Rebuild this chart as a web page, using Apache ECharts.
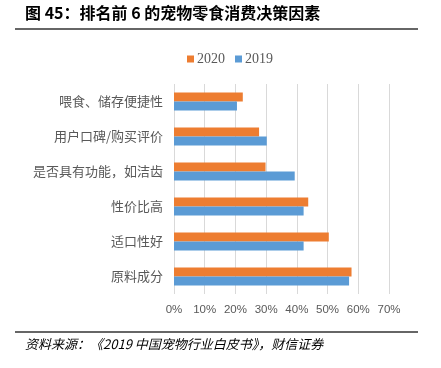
<!DOCTYPE html>
<html>
<head>
<meta charset="utf-8">
<script src="https://cdn.jsdelivr.net/npm/echarts@6/dist/echarts.min.js"></script>
<style>
  html, body { margin: 0; padding: 0; background: #fff; }
  #main { width: 441px; height: 368px; }
</style>
</head>
<body>
<div id="main"></div>
<script>
// 决策因素（自下而上）
var categories = ['原料成分', '适口性好', '性价比高', '是否具有功能，如洁齿', '用户口碑/购买评价', '喂食、储存便捷性'];
var data2020 = [57.8, 50.4, 43.7, 29.8, 27.7, 22.4];
var data2019 = [57.0, 42.2, 42.2, 39.3, 30.2, 20.5];
var xTicks = [0, 10, 20, 30, 40, 50, 60, 70];

var chart = echarts.init(document.getElementById('main'));

chart.setOption({
    animation: false,
    backgroundColor: '#fff',
    legend: {
        data: ['2020', '2019'],
        left: 182,
        top: 47,
        itemWidth: 7,
        itemHeight: 7,
        itemGap: 10,
        icon: 'rect',
        textStyle: {
            fontFamily: 'Liberation Serif',
            fontSize: 14,
            color: '#595959',
            padding: [0, 0, 0, -2]
        }
    },
    grid: {
        left: 174,
        right: 52,
        top: 84,
        bottom: 74
    },
    xAxis: {
        type: 'value',
        min: 0,
        max: 70,
        interval: 10,
        axisLine: { show: false },
        axisTick: { show: false },
        axisLabel: {
            color: '#595959',
            fontFamily: 'Liberation Sans',
            fontSize: 11.5,
            margin: 10,
            formatter: function (v) { return xTicks.indexOf(v) >= 0 ? v + '%' : ''; }
        },
        splitLine: { show: true, lineStyle: { color: '#d9d9d9', width: 1 } }
    },
    yAxis: {
        type: 'category',
        data: categories,
        axisLine: { show: false },
        axisTick: { show: false },
        axisLabel: {
            color: '#595959',
            fontFamily: 'Noto Sans CJK SC',
            fontSize: 13,
            margin: 11
        }
    },
    series: [
        {
            name: '2020',
            type: 'bar',
            data: data2020,
            barWidth: 9,
            barGap: '0%',
            itemStyle: { color: '#ED7D31' }
        },
        {
            name: '2019',
            type: 'bar',
            data: data2019,
            barWidth: 9,
            barGap: '0%',
            itemStyle: { color: '#5B9BD5' }
        }
    ],
    graphic: [
        {
            type: 'text',
            left: 25,
            top: 5,
            style: {
                text: '图 45：排名前 6 的宠物零食消费决策因素',
                fontFamily: 'Noto Sans CJK SC',
                fontWeight: 'bold',
                fontSize: 16,
                fill: '#000'
            }
        },
        {
            type: 'line',
            shape: { x1: 15, y1: 29, x2: 418, y2: 29 },
            style: { stroke: '#333', lineWidth: 1.5 }
        },
        {
            type: 'line',
            shape: { x1: 15, y1: 332, x2: 418, y2: 332 },
            style: { stroke: '#333', lineWidth: 1.5 }
        },
        {
            type: 'text',
            left: 25,
            top: 338,
            style: {
                text: '资料来源：《2019 中国宠物行业白皮书》，财信证券',
                fontFamily: 'Noto Sans CJK SC',
                fontStyle: 'italic',
                fontSize: 13,
                fill: '#000'
            }
        }
    ]
});
</script>
</body>
</html>
